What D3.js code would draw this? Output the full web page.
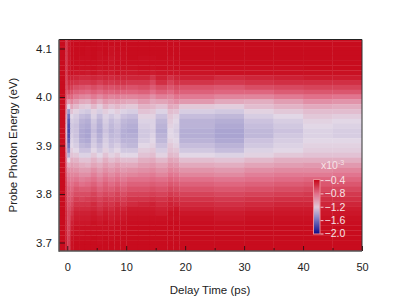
<!DOCTYPE html>
<html lang="en">
<head>
<meta charset="UTF-8">
<title>Delay map</title>
<script src="https://cdnjs.cloudflare.com/ajax/libs/d3/7.8.5/d3.min.js"></script>
<style>
html, body { margin: 0; padding: 0; background: #fff; }
svg { display: block; }
text { font-family: "Liberation Sans", Arial, sans-serif; fill: #222; }
.frame path { display: none; }
.tick line { stroke: #3c1014; }
</style>
</head>
<body>
<div id="output"></div>
<script>
// column edges in ps, from the steps in the picture
var delayEdges = [-1.4,-0.3,0,0.5,1,2,3,4,5,6,7,8,9,10,12,14,15,17,18,19,25,30,35,40,45,50];

// row centres in eV
var energies = [4.12,4.11,4.10,4.09,4.08,4.07,4.06,4.05,4.04,4.03,4.02,4.01,4.00,3.99,3.98,3.97,3.96,3.95,3.94,3.93,3.92,3.91,3.90,3.89,3.88,3.87,3.86,3.85,3.84,3.83,3.82,3.81,3.80,3.79,3.78,3.77,3.76,3.75,3.74,3.73,3.72,3.71,3.70,3.69,3.68];

// -dA in units of 1e-5, one row per energy, one entry per delay column
var depth = [
[40,58,44,40,40,40,40,40,40,40,40,40,40,40,40,40,40,40,40,40,40,40,40,40,40],
[40,58,44,40,40,40,40,40,41,40,40,40,40,40,40,40,40,40,40,40,40,40,40,40,40],
[40,58,44,40,40,40,41,40,41,40,42,40,40,40,40,40,40,40,40,40,40,40,40,40,40],
[40,58,44,40,40,40,41,40,42,40,42,41,41,40,40,40,40,40,40,40,40,40,40,40,40],
[40,58,44,40,40,41,41,40,42,41,43,41,41,40,41,41,40,41,40,40,40,40,40,40,40],
[40,58,44,40,41,41,41,41,42,41,43,41,41,41,41,41,41,41,41,40,40,40,40,40,40],
[40,58,44,41,41,42,42,41,43,42,43,42,42,42,41,42,41,42,41,41,41,41,41,40,40],
[40,60,44,42,44,44,45,43,46,44,46,43,45,45,44,46,44,44,44,43,42,42,42,42,42],
[40,62,48,48,50,52,52,50,52,50,52,50,50,50,50,56,48,54,50,48,52,50,48,46,46],
[40,64,52,54,56,58,58,56,60,56,58,56,56,58,58,64,54,62,56,56,58,56,54,54,54],
[40,66,56,60,66,68,70,66,70,66,68,66,66,68,66,72,66,70,66,68,70,66,64,62,62],
[40,68,64,68,74,76,78,74,78,74,76,74,76,76,74,80,74,78,72,74,76,76,72,70,70],
[40,72,76,76,84,88,90,84,90,84,88,86,88,88,86,92,86,88,82,84,88,88,84,80,82],
[40,78,96,88,96,102,104,96,104,96,100,98,100,102,96,102,100,96,92,96,102,104,98,92,94],
[40,86,122,100,108,114,116,108,116,106,112,108,112,114,106,108,112,102,104,114,116,110,106,102,104],
[40,94,146,112,118,124,126,118,124,116,120,116,122,124,112,114,122,110,112,124,126,118,114,110,110],
[40,100,160,120,124,130,132,122,130,122,126,122,128,130,118,118,128,114,118,130,132,124,120,114,116],
[40,104,168,124,126,134,136,126,134,124,130,126,132,134,122,122,132,116,120,134,136,128,124,118,120],
[40,108,172,126,128,136,138,128,136,126,132,128,134,136,124,122,134,118,122,134,138,130,126,120,122],
[40,110,174,126,128,138,140,130,138,128,134,130,136,138,126,124,136,120,124,136,140,132,128,122,124],
[40,108,172,124,128,138,140,128,136,126,132,130,136,136,126,122,134,120,122,136,140,132,126,122,124],
[40,106,168,122,126,136,138,126,134,124,130,128,134,134,124,120,132,118,120,134,138,128,124,120,120],
[40,102,160,120,124,132,134,124,130,122,128,124,130,132,120,118,128,114,118,130,134,126,122,118,118],
[40,96,150,116,120,128,128,120,126,118,124,120,126,126,116,114,124,112,114,126,130,122,120,116,116],
[40,90,136,112,114,122,122,114,120,112,118,114,120,120,112,110,118,108,110,120,122,118,114,112,112],
[40,84,118,104,106,112,112,106,112,104,110,106,110,110,104,102,108,100,102,110,112,108,104,104,104],
[40,78,102,98,100,104,106,100,104,98,102,98,102,102,98,96,100,94,96,102,104,100,98,96,96],
[40,74,92,92,94,98,98,92,98,92,96,92,96,94,92,90,94,88,90,94,96,92,90,90,88],
[40,70,86,88,88,92,92,86,92,86,90,86,90,88,86,84,88,82,84,88,90,86,84,84,82],
[40,66,82,84,82,86,84,80,86,80,84,80,84,80,80,78,80,76,78,80,82,80,78,76,76],
[40,64,78,80,76,80,78,74,80,74,78,74,78,74,74,72,74,70,72,74,76,74,72,70,70],
[40,62,74,76,70,72,72,68,74,70,72,68,72,68,68,66,68,64,66,68,70,68,66,64,64],
[40,60,72,72,66,66,66,62,68,64,66,62,66,62,62,60,62,58,60,62,64,62,60,58,58],
[40,58,70,68,60,62,60,58,62,58,60,58,60,56,56,54,56,52,54,56,58,56,54,54,54],
[40,56,68,64,56,56,56,52,58,54,56,52,56,52,50,48,52,48,50,52,54,52,50,50,50],
[40,54,66,60,52,52,52,50,54,50,52,48,50,46,46,46,48,46,44,48,50,48,46,46,46],
[40,52,64,56,48,48,48,46,50,46,48,46,46,44,44,44,46,42,42,44,46,44,44,44,44],
[40,52,64,52,46,46,46,44,46,44,46,44,44,42,42,42,42,42,42,42,44,42,42,42,42],
[40,50,64,48,44,44,44,42,44,42,44,42,42,41,41,41,41,40,40,41,42,41,41,41,41],
[40,50,62,46,42,42,42,42,42,42,42,41,41,40,40,40,40,40,40,40,41,40,40,40,40],
[40,50,62,44,42,42,41,41,41,41,41,41,40,40,40,40,40,40,40,40,40,40,40,40,40],
[40,48,60,42,41,41,41,40,41,40,41,40,40,40,40,40,40,40,40,40,40,40,40,40,40],
[40,48,60,42,40,40,40,40,41,40,40,40,40,40,40,40,40,40,40,40,40,40,40,40,40],
[40,48,60,42,40,40,40,40,40,40,40,40,40,40,40,40,40,40,40,40,40,40,40,40,40],
[40,48,60,42,40,40,40,40,40,40,40,40,40,40,40,40,40,40,40,40,40,40,40,40,40]
];

var delayMajor = [0,10,20,30,40,50];
var delayMinor = [5,15,25,35,45];
var energyTicks = [3.7,3.8,3.9,4.0,4.1];
var barTicks = [-0.4,-0.8,-1.2,-1.6,-2.0];
var barSteps = d3.range(0, 55);

var svg = d3.select("#output").append("svg").attr("width", 415).attr("height", 304);

var left = 59, right = 362, top_ = 39.5, bottom = 251;

var x = d3.scaleLinear().domain([-1.4, 50]).range([left, right]);
var y = d3.scaleLinear().domain([4.1, 3.7]).range([48.5, 242.5]);

// colour stops
var color = d3.scaleLinear()
    .domain([-2.0, -1.6, -1.2, -0.8, -0.4])
    .range(["#0a0a8c", "#7270bc", "#e2d7e6", "#e1708a", "#c80c1e"])
    .clamp(true);

var rowH = Math.abs(y(4.0) - y(4.01));

var plot = svg.append("g");
plot.append("clipPath").attr("id", "plotClip").append("rect")
    .attr("x", left).attr("y", top_).attr("width", right - left).attr("height", bottom - top_);

var cells = plot.append("g").attr("clip-path", "url(#plotClip)");
depth.forEach(function(row, r) {
    row.forEach(function(v, c) {
        cells.append("rect")
            .attr("x", x(delayEdges[c]))
            .attr("y", y(energies[r]) - rowH / 2)
            .attr("width", x(delayEdges[c + 1]) - x(delayEdges[c]) + 0.3)
            .attr("height", rowH + 0.3)
            .attr("fill", color(-v / 100));
    });
});

// axes with ticks pointing inward
var xMajor = d3.axisBottom(x).tickValues(delayMajor).tickFormat(d3.format("d")).tickSizeInner(-5).tickPadding(12);
var xMinor = d3.axisBottom(x).tickValues(delayMinor).tickFormat("").tickSizeInner(-3);
var yAxis = d3.axisLeft(y).tickValues(energyTicks).tickFormat(d3.format(".1f")).tickSizeInner(-6).tickPadding(7);

svg.append("g").attr("class", "frame").attr("transform", "translate(0," + bottom + ")").call(xMajor)
    .selectAll("text").style("font-size", "11px");
svg.append("g").attr("class", "frame").attr("transform", "translate(0," + bottom + ")").call(xMinor);
svg.append("g").attr("class", "frame").attr("transform", "translate(" + left + ",0)").call(yAxis)
    .selectAll("text").style("font-size", "11.5px");

svg.append("line").attr("x1", left).attr("x2", right).attr("y1", top_).attr("y2", top_).attr("stroke", "#222").attr("stroke-width", 1);
svg.append("line").attr("x1", right).attr("x2", right).attr("y1", top_).attr("y2", bottom).attr("stroke", "#333").attr("stroke-width", 1);
svg.append("line").attr("x1", left).attr("x2", left).attr("y1", top_).attr("y2", bottom + 0.7).attr("stroke", "#555").attr("stroke-width", 1.5);
svg.append("line").attr("x1", left).attr("x2", right).attr("y1", bottom).attr("y2", bottom).attr("stroke", "#555").attr("stroke-width", 1.5);

svg.append("text").attr("x", 210).attr("y", 294).attr("text-anchor", "middle")
    .style("font-size", "11.5px").text("Delay Time (ps)");
svg.append("text").attr("transform", "translate(17,145) rotate(-90)").attr("text-anchor", "middle")
    .style("font-size", "11.5px").text("Probe Photon Energy (eV)");

// colour bar
var barY = d3.scaleLinear().domain([-0.4, -2.0]).range([180, 233.5]);
var bar = svg.append("g");
barSteps.forEach(function(i) {
    var v = -0.4 - i * 1.6 / barSteps.length;
    bar.append("rect").attr("x", 313.5).attr("y", barY(v)).attr("width", 6.5).attr("height", 1.4).attr("fill", color(v));
});
bar.append("rect").attr("x", 313.5).attr("y", 179.5).attr("width", 6.5).attr("height", 54.5)
    .attr("fill", "none").attr("stroke", "#eb8c96").attr("stroke-width", 1);

var barAxis = d3.axisRight(barY).tickValues(barTicks).tickFormat(d3.format(".1f")).tickSize(3).tickPadding(1);
var barG = svg.append("g").attr("class", "frame").attr("transform", "translate(320.5,0)").call(barAxis);
barG.selectAll("line").style("stroke", "#f3c6cc");
barG.selectAll("text").style("font-size", "10.5px").style("fill", "#f6e3e6");

var unit = svg.append("text").attr("x", 321).attr("y", 169).style("font-size", "10.5px").style("fill", "#f6e3e6");
unit.append("tspan").text("x10");
unit.append("tspan").attr("dy", -4).style("font-size", "7px").text("-3");
</script>
</body>
</html>
